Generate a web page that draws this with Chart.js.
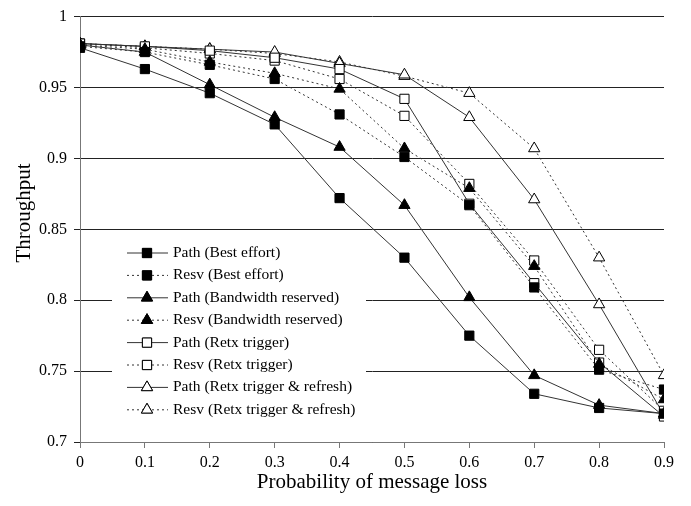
<!DOCTYPE html>
<html>
<head>
<meta charset="utf-8">
<script src="https://cdn.jsdelivr.net/npm/chart.js@4"></script>
<style>
  html, body { margin: 0; padding: 0; background: #fff; }
  #wrap { width: 691px; height: 506px; position: relative; }
</style>
</head>
<body>
<div id="wrap"><canvas id="chart" width="691" height="506"></canvas></div>
<script>
// x values: probability of message loss
const lossProb = [0, 0.1, 0.2, 0.3, 0.4, 0.5, 0.6, 0.7, 0.8, 0.9];

// throughput series
const pathBest    = [0.978, 0.963, 0.946, 0.924, 0.872, 0.830, 0.775, 0.734, 0.724, 0.720];
const resvBest    = [0.979, 0.975, 0.966, 0.956, 0.931, 0.901, 0.867, 0.809, 0.751, 0.737];
const pathBw      = [0.980, 0.975, 0.952, 0.929, 0.908, 0.867, 0.802, 0.747, 0.726, 0.720];
const resvBw      = [0.980, 0.977, 0.968, 0.960, 0.949, 0.907, 0.879, 0.824, 0.755, 0.730];
const pathRetx    = [0.981, 0.979, 0.976, 0.971, 0.963, 0.942, 0.868, 0.812, 0.756, 0.718];
const resvRetx    = [0.981, 0.978, 0.974, 0.969, 0.956, 0.930, 0.882, 0.828, 0.765, 0.722];
const pathRefresh = [0.981, 0.979, 0.977, 0.975, 0.967, 0.959, 0.929, 0.871, 0.797, 0.719];
const resvRefresh = [0.981, 0.979, 0.977, 0.974, 0.968, 0.958, 0.946, 0.907, 0.830, 0.747];

const yTicks = [0.7, 0.75, 0.8, 0.85, 0.9, 0.95, 1];
const xTicks = [0, 0.1, 0.2, 0.3, 0.4, 0.5, 0.6, 0.7, 0.8, 0.9];

const SERIF = '"Liberation Serif", "Times New Roman", serif';
const DOTS = [2, 3];

function series(label, values, shape, filled, dotted) {
  return {
    label,
    data: values.map((v, i) => ({ x: lossProb[i], y: v })),
    borderColor: '#333',
    borderWidth: 1,
    borderDash: dotted ? DOTS : [],
    pointStyle: shape,
    pointRadius: 6.5,
    pointBackgroundColor: filled ? '#000' : '#fff',
    pointBorderColor: '#000',
    pointBorderWidth: 1,
    tension: 0,
    fill: false,
  };
}

// legend drawn inside the plot area on a white box, plus the y title
const insideLegend = {
  id: 'insideLegend',
  afterDatasetsDraw(chart) {
    const ctx = chart.ctx;
    const sets = chart.data.datasets;
    ctx.save();
    ctx.fillStyle = '#fff';
    ctx.fillRect(112, 238, 254, 186);
    sets.forEach((ds, i) => {
      const y = 253 + i * 22.4;
      ctx.strokeStyle = '#333';
      ctx.lineWidth = 1;
      ctx.setLineDash(ds.borderDash);
      ctx.beginPath();
      ctx.moveTo(127, y);
      ctx.lineTo(168, y);
      ctx.stroke();
      ctx.setLineDash([]);
      Chart.helpers.drawPoint(ctx, {
        pointStyle: ds.pointStyle, rotation: 0, radius: ds.pointRadius, borderWidth: 1
      }, 147, y);
      ctx.fillStyle = ds.pointBackgroundColor;
      ctx.strokeStyle = '#000';
      ctx.fill();
      ctx.stroke();
      ctx.fillStyle = '#000';
      ctx.font = '15.5px ' + SERIF;
      ctx.textBaseline = 'middle';
      ctx.textAlign = 'left';
      ctx.fillText(ds.label, 173, y);
    });
    // y axis title
    ctx.translate(24, 213);
    ctx.rotate(-Math.PI / 2);
    ctx.font = '21px ' + SERIF;
    ctx.textAlign = 'center';
    ctx.textBaseline = 'middle';
    ctx.fillText('Throughput', 0, 0);
    ctx.restore();
  }
};

new Chart(document.getElementById('chart'), {
  type: 'line',
  data: {
    datasets: [
      series('Path (Best effort)', pathBest, 'rect', true, false),
      series('Resv (Best effort)', resvBest, 'rect', true, true),
      series('Path (Bandwidth reserved)', pathBw, 'triangle', true, false),
      series('Resv (Bandwidth reserved)', resvBw, 'triangle', true, true),
      series('Path (Retx trigger)', pathRetx, 'rect', false, false),
      series('Resv (Retx trigger)', resvRetx, 'rect', false, true),
      series('Path (Retx trigger & refresh)', pathRefresh, 'triangle', false, false),
      series('Resv (Retx trigger & refresh)', resvRefresh, 'triangle', false, true),
    ]
  },
  plugins: [insideLegend],
  options: {
    responsive: false,
    animation: false,
    layout: { padding: { top: 10, right: 27, left: 0, bottom: 0 } },
    plugins: { legend: { display: false }, tooltip: { enabled: false } },
    scales: {
      x: {
        type: 'linear', min: 0, max: 0.9,
        afterBuildTicks: s => { s.ticks = xTicks.map(v => ({ value: v })); },
        afterFit: s => { s.height = 64; },
        border: { color: '#777', width: 1 },
        grid: { drawOnChartArea: false, drawTicks: true, tickLength: 6, color: '#777' },
        ticks: {
          color: '#000', font: { family: SERIF, size: 16 }, padding: 5,
          maxRotation: 0, callback: v => String(v)
        },
        title: {
          display: true, text: 'Probability of message loss', color: '#000',
          font: { family: SERIF, size: 21 }, padding: { top: 0, bottom: 11 }
        }
      },
      y: {
        type: 'linear', min: 0.7, max: 1,
        afterBuildTicks: s => { s.ticks = yTicks.map(v => ({ value: v })); },
        afterFit: s => { s.width = 80; },
        border: { color: '#777', width: 1 },
        grid: { color: '#222', lineWidth: 1, tickLength: 6 },
        ticks: {
          color: '#000', font: { family: SERIF, size: 16 }, padding: 7,
          callback: v => String(v)
        }
      }
    }
  }
});
</script>
</body>
</html>
